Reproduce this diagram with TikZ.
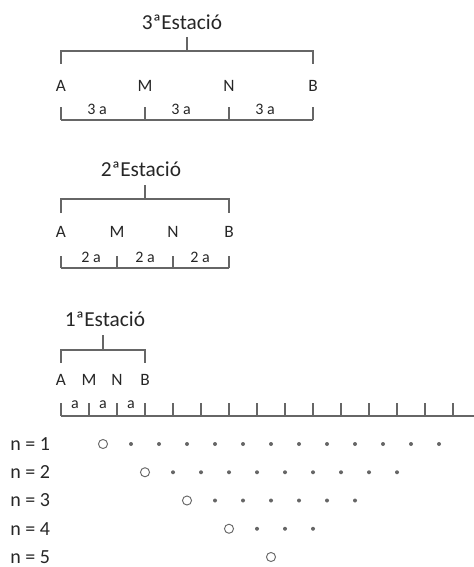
\documentclass[tikz,border=0pt]{standalone}
\usepackage{fontspec}
\setmainfont{Carlito}
\usetikzlibrary{positioning}

\tikzset{
  ln/.style={draw=black!60, line width=0.9pt},
  axisln/.style={draw=black!60, line width=1.3pt},
  title/.style={font=\fontsize{16}{19}\selectfont, text=black!85},
  ptlabel/.style={font=\fontsize{13}{15}\selectfont, text=black!85},
  seglabel/.style={font=\fontsize{12}{14}\selectfont, text=black!85},
  nlabel/.style={font=\fontsize{15}{17}\selectfont, text=black!85, anchor=west, inner sep=0pt},
  ocirc/.style={circle, draw=black!60, line width=0.7pt, minimum size=6.8pt, inner sep=0pt},
  dotc/.style={fill=black!60}
}

\begin{document}
\begin{tikzpicture}[x=0.75pt, y=-0.75pt]
    \useasboundingbox (0,0) rectangle (474,567);

    % 3a Estacio
    \node[title] (t3) at (182,22) {3ªEstació};
    \coordinate (s3) at (187,37);
    \draw[ln] (s3) -- (187,51);
    \draw[ln] (61,64) -- (61,51) -- (313,51) -- (313,64);
    \foreach \x/\l in {61/A,145/M,229/N,313/B}
        \node[ptlabel] (e3\l) at (\x,86) {\l};
    \draw[ln] (61,120) -- (313,120);
    \foreach \x in {61,145,229,313}
        \draw[ln] (\x,107) -- (\x,120);
    \foreach \x [count=\i] in {97,181,265}
        \node[seglabel] (d3\i) at (\x,109) {3 a};

    % 2a Estacio
    \node[title] (t2) at (141,169) {2ªEstació};
    \coordinate (s2) at (145,185);
    \draw[ln] (s2) -- (145,199);
    \draw[ln] (61,213) -- (61,199) -- (229,199) -- (229,213);
    \foreach \x/\l in {61/A,117/M,173/N,229/B}
        \node[ptlabel] (e2\l) at (\x,232) {\l};
    \draw[ln] (61,268) -- (229,268);
    \foreach \x in {61,117,173,229}
        \draw[ln] (\x,256) -- (\x,268);
    \foreach \x [count=\i] in {91,145,200}
        \node[seglabel] (d2\i) at (\x,257) {2 a};

    % 1a Estacio
    \node[title] (t1) at (105,319) {1ªEstació};
    \coordinate (s1) at (103,335);
    \draw[ln] (s1) -- (103,350);
    \draw[ln] (61,363) -- (61,350) -- (145,350) -- (145,363);
    \foreach \x/\l in {61/A,89/M,117/N,145/B}
        \node[ptlabel] (e1\l) at (\x,380) {\l};
    \foreach \x [count=\i] in {75,103,131}
        \node[seglabel] (d1\i) at (\x,405) {a};

    % electrode line
    \draw[axisln] (61,416) -- (474,416);
    \foreach \k in {0,...,14}
        \draw[ln] (61+28*\k,403) -- (61+28*\k,416);

    % pseudo-section points
    \foreach \n in {1,...,5}{
        \pgfmathsetmacro{\yy}{444+28.25*(\n-1)}
        \pgfmathsetmacro{\xc}{103+42*(\n-1)}
        \pgfmathtruncatemacro{\nd}{3*(5-\n)}
        \node[nlabel] (n\n) at (10,\yy) {n = \n};
        \node[ocirc] (c\n) at (\xc,\yy) {};
        \ifnum\nd>0
            \foreach \k in {1,...,\nd}
                \fill[dotc] (\xc+28*\k,\yy) circle (2);
        \fi
    }

\end{tikzpicture}
\end{document}
